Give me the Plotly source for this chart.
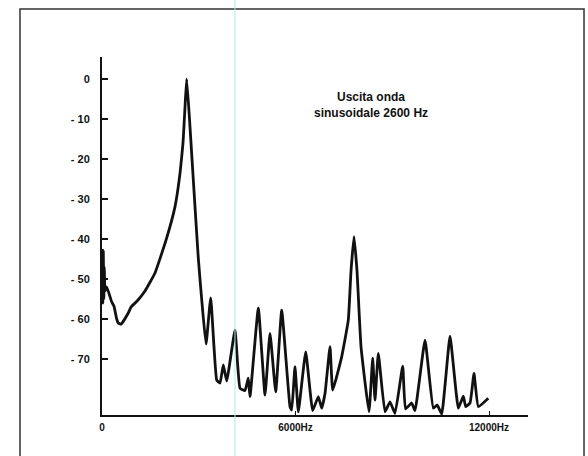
import plotly.graph_objects as go

# Spectrum trace (frequency in Hz, level in dB)
freq_hz = [10, 25, 40, 56, 71, 93, 146, 300, 372, 456, 505, 590, 815, 900, 1090, 1333,
           1643, 1985, 2264, 2419, 2512, 2574, 2626, 2729, 2853, 2986, 3101, 3225,
           3371, 3557, 3659, 3761, 3867, 4124, 4279, 4434, 4536, 4589, 4847, 5054,
           5209, 5386, 5572, 5829, 5882, 5984, 6087, 6316, 6533, 6707, 6812, 6915,
           7070, 7153, 7433, 7637, 7721, 7814, 7907, 8031, 8279, 8394, 8465, 8567,
           8775, 8930, 9085, 9324, 9411, 9603, 9705, 10016, 10273, 10397, 10533,
           10791, 11048, 11203, 11278, 11411, 11535, 11668, 11978]
level_db = [-42.5, -56, -43, -55, -47, -53, -52, -55.7, -56.8, -60, -61, -61.3, -58.5, -57,
            -55.5, -53, -48.5, -40.3, -31.9, -23.6, -16, -7, 0, -12, -28, -44.8, -56,
            -66.3, -54.7, -75.3, -76, -71.5, -75.5, -62.8, -77.3, -77.9, -74.8, -79.4,
            -57.3, -79, -63.6, -78.2, -57.8, -81.9, -82.8, -71.9, -83.2, -68.2, -82.9,
            -79.4, -82.3, -78.6, -66.9, -77.8, -69.4, -60.3, -48, -39.4, -48, -66.9,
            -83.2, -69.8, -80.3, -68.6, -83.2, -80.7, -83.6, -71.8, -82.5, -81, -82.9,
            -65.3, -82.3, -81.5, -83.8, -64.3, -82.3, -79.3, -81.9, -81, -73.6, -81.9,
            -79.8]

y_tick_vals = [0, -10, -20, -30, -40, -50, -60, -70]
y_tick_text = ["0", "- 10", "- 20", "- 30", "- 40", "- 50", "- 60", "- 70"]
x_tick_vals = [0, 6000, 12000]
x_tick_text = ["0", "6000Hz", "12000Hz"]
title_text = "Uscita onda<br>sinusoidale 2600 Hz"

fig = go.Figure()
fig.add_trace(go.Scatter(
    x=freq_hz, y=level_db, mode="lines",
    line=dict(color="#111111", width=2.8, shape="spline", smoothing=0.35),
    hoverinfo="skip", showlegend=False,
))

fig.update_layout(
    width=588, height=456,
    margin=dict(l=102, r=60, t=57, b=41),
    paper_bgcolor="white", plot_bgcolor="white",
    showlegend=False,
    xaxis=dict(
        range=[0, 13209], showgrid=False, zeroline=False,
        showline=True, linecolor="#111111", linewidth=2,
        tickmode="array", tickvals=x_tick_vals, ticktext=x_tick_text,
        ticks="inside", ticklen=4, tickwidth=1, tickcolor="#111111",
        tickfont=dict(family="Liberation Sans", size=10, color="#111111", weight="bold"),
        ticklabelstandoff=2,
    ),
    yaxis=dict(
        range=[-84, 5.5], showgrid=False, zeroline=False,
        showline=True, linecolor="#111111", linewidth=2,
        tickmode="array", tickvals=y_tick_vals, ticktext=y_tick_text,
        ticks="inside", ticklen=6, tickwidth=2, tickcolor="#111111",
        tickfont=dict(family="Liberation Sans", size=11, color="#111111", weight="bold"),
        ticklabelstandoff=8,
    ),
    annotations=[dict(
        text=title_text, xref="paper", yref="paper",
        x=0.6315, y=0.866, xanchor="center", yanchor="middle",
        showarrow=False, align="center",
        font=dict(family="Liberation Sans", size=12, color="#111111", weight="bold"),
    )],
    shapes=[
        dict(type="rect", xref="paper", yref="paper",
             x0=-0.1925, x1=1.1315, y0=-0.13, y1=1.134,
             line=dict(color="#333333", width=1.5), layer="below"),
        dict(type="line", xref="paper", yref="paper",
             x0=0.3122, x1=0.3122, y0=-0.2, y1=1.2,
             line=dict(color="#a8ece4", width=1), layer="above"),
    ],
)

fig.write_html("out.html", config={"displayModeBar": False},
               post_script="document.body.style.margin='0px';document.body.style.overflow='hidden';")
